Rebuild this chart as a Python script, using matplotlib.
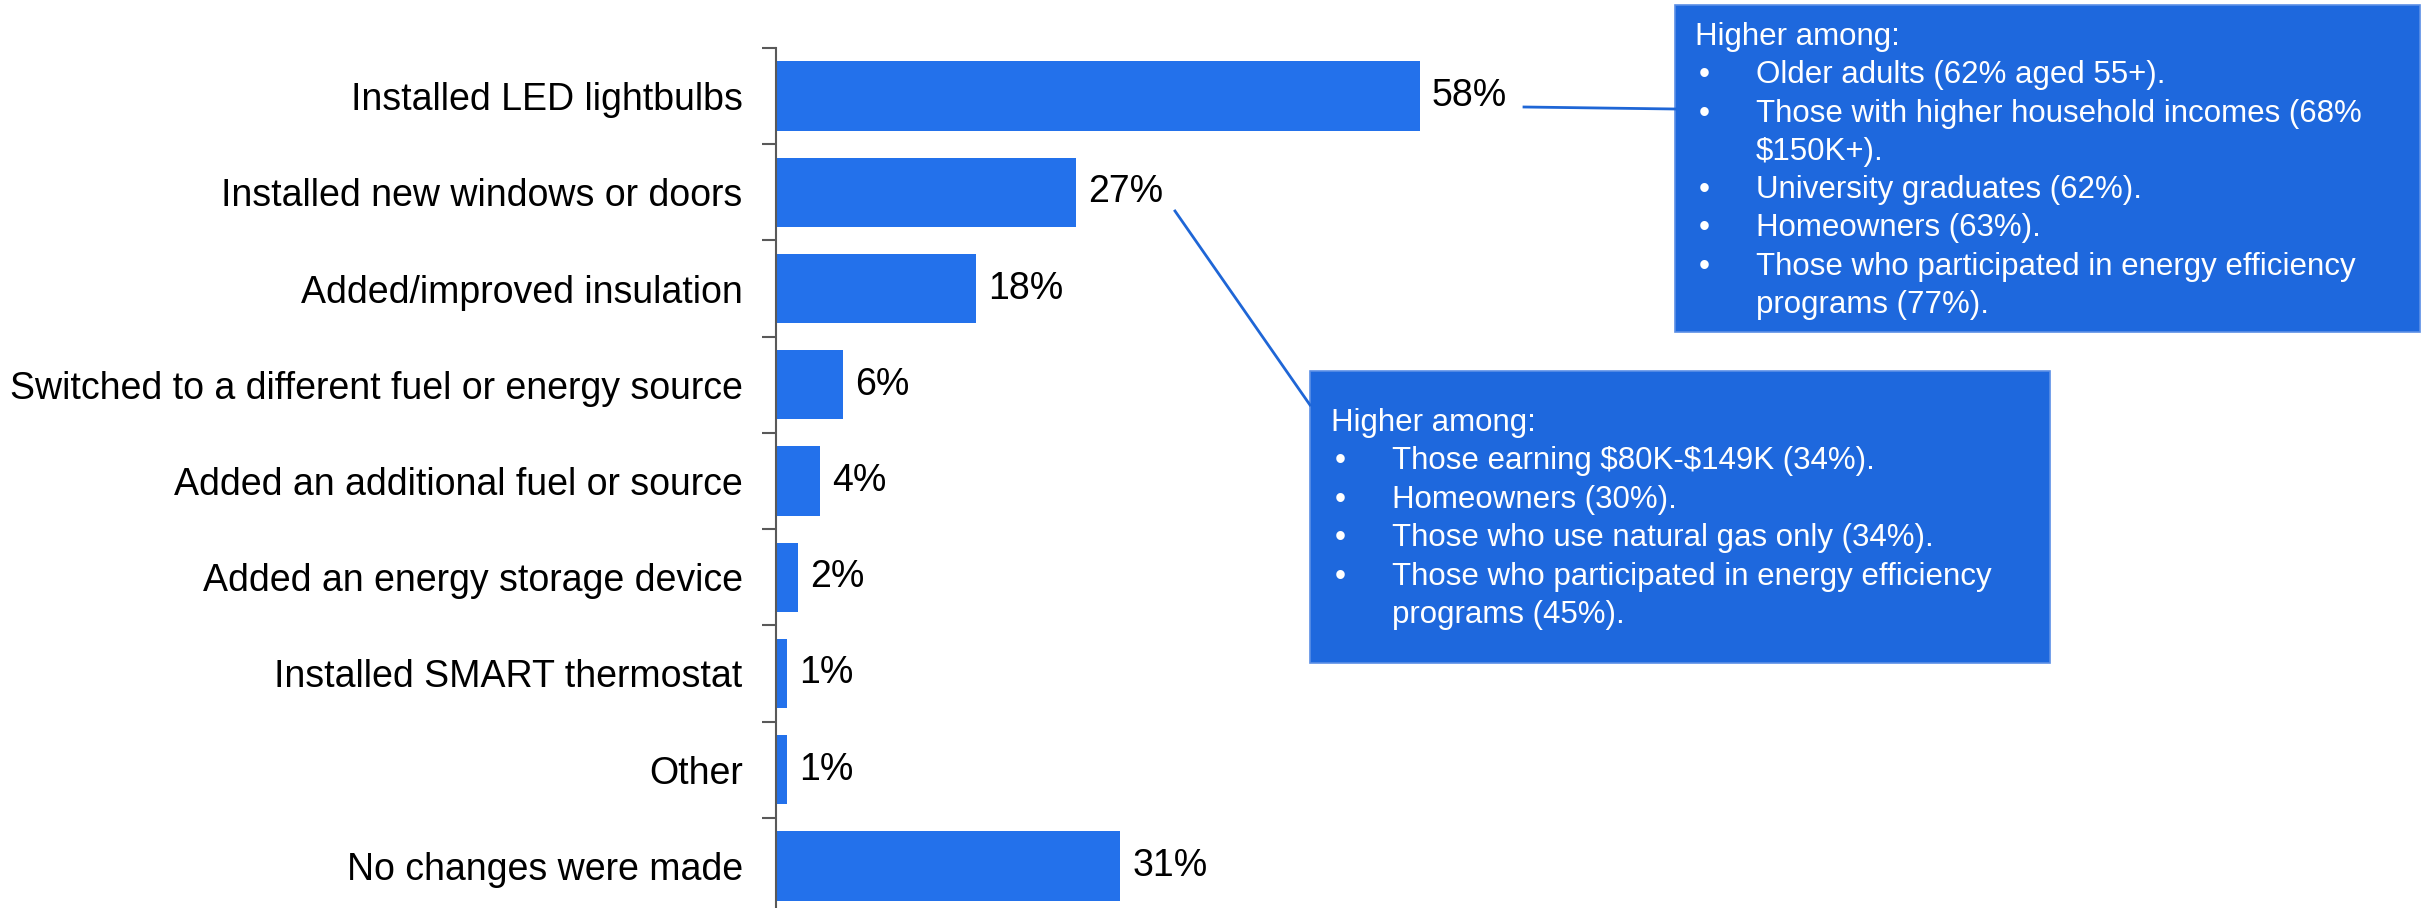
import matplotlib.pyplot as plt
from matplotlib.patches import Rectangle
from matplotlib.lines import Line2D

plt.rcParams['font.family'] = ['Liberation Sans', 'DejaVu Sans']
plt.rcParams['text.parse_math'] = False

# survey answers, top to bottom
categories = [
    "Installed LED lightbulbs",
    "Installed new windows or doors",
    "Added/improved insulation",
    "Switched to a different fuel or energy source",
    "Added an additional fuel or source",
    "Added an energy storage device",
    "Installed SMART thermostat",
    "Other",
    "No changes were made",
]
values = [58, 27, 18, 6, 4, 2, 1, 1, 31]

led_notes = [
    ["Older adults (62% aged 55+)."],
    ["Those with higher household incomes (68%", "$150K+)."],
    ["University graduates (62%)."],
    ["Homeowners (63%)."],
    ["Those who participated in energy efficiency", "programs (77%)."],
]
windows_notes = [
    ["Those earning $80K-$149K (34%)."],
    ["Homeowners (30%)."],
    ["Those who use natural gas only (34%)."],
    ["Those who participated in energy efficiency", "programs (45%)."],
]

W, H = 2423, 908
BAR = '#2371EB'
BOX = '#1E68DD'
LINE = '#1F66D6'


def fx(px):
    return px / W


def fy(py):
    return 1 - py / H


fig = plt.figure(figsize=(W / 100, H / 100), dpi=100)
px_per_pct = 11.1
ax_left, ax_top, ax_bottom = 776, 48, 914
ax = fig.add_axes([fx(ax_left), fy(ax_bottom), (W - ax_left) / W, (ax_bottom - ax_top) / H])

y = list(range(len(categories)))
ax.barh(y, values, height=0.72, color=BAR)
ax.set_xlim(0, (W - ax_left) / px_per_pct)
ax.set_ylim(len(categories) - 0.5, -0.5)

for i, v in enumerate(values):
    ax.text(v + 1.1, i, f"{v}%", va='center', ha='left', fontsize=27)

ax.set_yticks(y)
ax.set_yticklabels(categories, fontsize=27)
ax.tick_params(axis='y', which='major', length=0, pad=24)
ax.set_yticks([i - 0.5 for i in range(len(categories) + 1)], minor=True)
ax.tick_params(axis='y', which='minor', length=10, width=1.5, color='#595959')
ax.set_xticks([])
for side in ['top', 'right', 'bottom']:
    ax.spines[side].set_visible(False)
ax.spines['left'].set_color('#595959')
ax.spines['left'].set_linewidth(1.5)


def callout(x0, y0, x1, y1, text_x, first_y, step, notes):
    fig.patches.append(Rectangle((fx(x0), fy(y1)), (x1 - x0) / W, (y1 - y0) / H,
                                 transform=fig.transFigure, facecolor=BOX,
                                 edgecolor='#5B8FE6', linewidth=1.2))
    fig.text(fx(text_x), fy(first_y), "Higher among:", color='white',
             fontsize=22.5, va='center', ha='left')
    row = 1
    for item in notes:
        fig.text(fx(text_x + 4), fy(first_y + row * step), "\u2022", color='white',
                 fontsize=22.5, va='center', ha='left')
        for line in item:
            fig.text(fx(text_x + 61), fy(first_y + row * step), line, color='white',
                     fontsize=22.5, va='center', ha='left')
            row += 1


callout(1675, 5, 2420, 332, 1695, 37, 38.3, led_notes)
callout(1310, 371, 2050, 663, 1331, 423, 38.4, windows_notes)

# connectors from the value labels to the boxes
fig.lines.append(Line2D([fx(1524), fx(1675)], [fy(107), fy(109)],
                        transform=fig.transFigure, color=LINE, linewidth=2))
fig.lines.append(Line2D([fx(1175), fx(1310)], [fy(211), fy(405)],
                        transform=fig.transFigure, color=LINE, linewidth=2))

fig.savefig('out.png', dpi=100)
